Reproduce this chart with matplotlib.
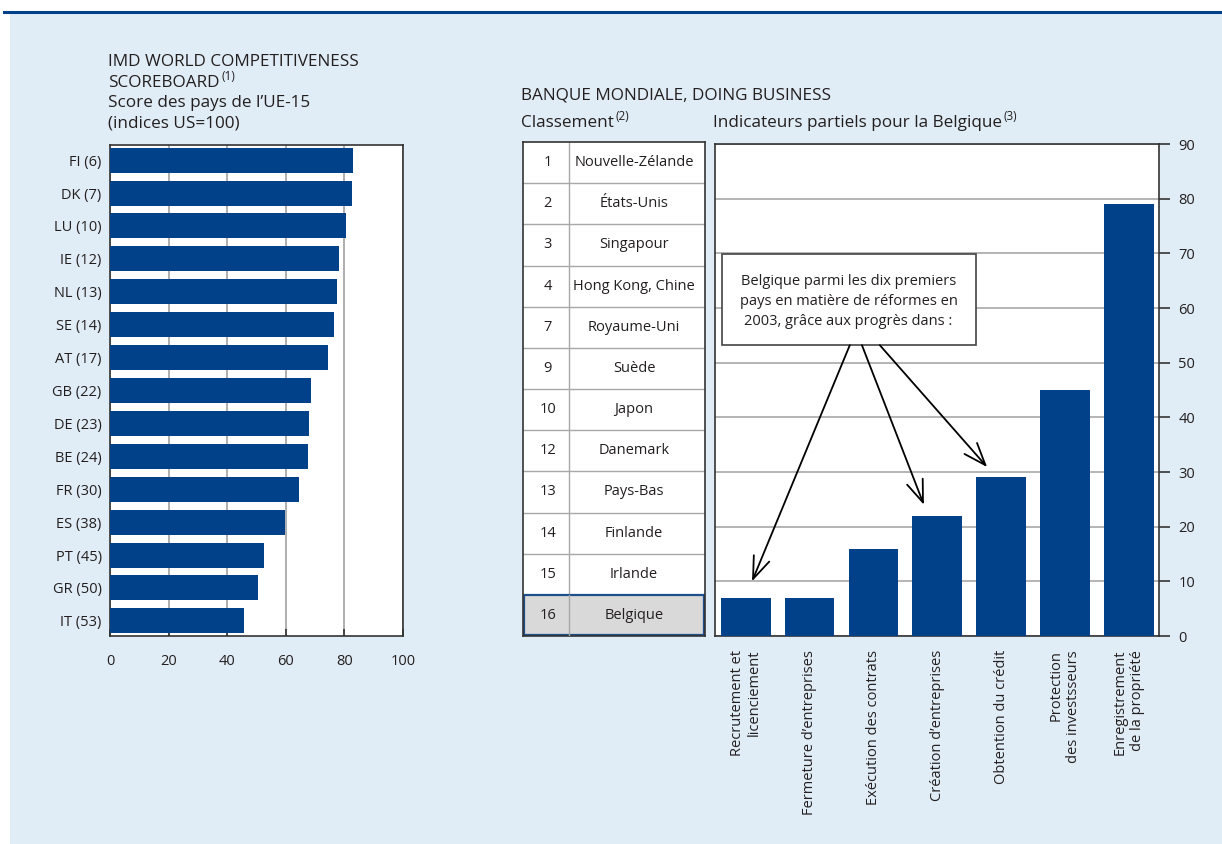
import matplotlib
matplotlib.use("Agg")
import matplotlib.pyplot as plt
from matplotlib.patches import Rectangle
from matplotlib.lines import Line2D

W, H = 1222, 844
BLUE = "#00418a"
BG = "#e1edf6"
TXT = "#231f20"
GRID = "#a8a8a8"
SPINE = "#333333"

plt.rcParams['font.family'] = ['Open Sans', 'DejaVu Sans']

# --- DATA ---
imd_labels = ["FI (6)", "DK (7)", "LU (10)", "IE (12)", "NL (13)", "SE (14)", "AT (17)",
              "GB (22)", "DE (23)", "BE (24)", "FR (30)", "ES (38)", "PT (45)", "GR (50)", "IT (53)"]
imd_scores = [82.8, 82.5, 80.4, 78.0, 77.4, 76.3, 74.3, 68.5, 67.8, 67.5, 64.4, 59.6, 52.5, 50.4, 45.6]

db_ranks = [1, 2, 3, 4, 7, 9, 10, 12, 13, 14, 15, 16]
db_countries = ["Nouvelle-Zélande", "États-Unis", "Singapour", "Hong Kong, Chine", "Royaume-Uni",
                "Suède", "Japon", "Danemark", "Pays-Bas", "Finlande", "Irlande", "Belgique"]

be_indicators = ["Recrutement et\nlicenciement", "Fermeture d’entreprises", "Exécution des contrats",
                 "Création d’entreprises", "Obtention du crédit", "Protection\ndes investsseurs",
                 "Enregistrement\nde la propriété"]
be_values = [7, 7, 16, 22, 29, 45, 79]

TS = 12.3  # title size
FS = 10.5  # label size


def box(l, t, r, b):
    return [l / W, 1 - b / H, (r - l) / W, (b - t) / H]


fig = plt.figure(figsize=(W / 100, H / 100), dpi=100)
fig.patch.set_facecolor("white")
fig.patches.append(Rectangle((10 / W, 0), 1 - 10 / W, 1 - 13 / H, transform=fig.transFigure,
                             facecolor=BG, edgecolor="none", zorder=-10))
fig.add_artist(Line2D([4 / W, 1], [1 - 11.5 / H] * 2, color=BLUE, lw=2.2))

renderer = fig.canvas.get_renderer()


def label(x, y, s, sup=None, size=TS):
    t = fig.text(x / W, 1 - y / H, s, fontsize=size, color=TXT, va="baseline")
    if sup:
        bb = t.get_window_extent(renderer=renderer)
        fig.text((bb.x1 + 2) / W, 1 - (y - 7) / H, sup, fontsize=8.5, color=TXT, va="baseline")


label(108, 66, "IMD WORLD COMPETITIVENESS")
label(108, 87, "SCOREBOARD", "(1)")
label(108, 107, "Score des pays de l’UE-15")
label(108, 128, "(indices US=100)")
label(521, 100, "BANQUE MONDIALE, DOING BUSINESS")
label(521, 127, "Classement", "(2)")
label(713, 127, "Indicateurs partiels pour la Belgique", "(3)")

# --- left: IMD horizontal bars ---
ax1 = fig.add_axes(box(110, 145, 403, 636))
ax1.set_facecolor("white")
pos = list(range(len(imd_scores)))
ax1.barh(pos, imd_scores, height=0.76, color=BLUE, zorder=3)
ax1.set_ylim(len(imd_scores) - 0.54, -0.46)
ax1.set_xlim(0, 100)
ax1.set_yticks(pos)
ax1.set_yticklabels(imd_labels)
ax1.set_xticks([0, 20, 40, 60, 80, 100])
ax1.set_axisbelow(True)
ax1.xaxis.grid(True, color=GRID, lw=1.3)
ax1.tick_params(axis="y", length=0, pad=6, labelsize=FS, labelcolor=TXT)
ax1.tick_params(axis="x", direction="in", length=5, width=1.2, color=SPINE, pad=13,
                labelsize=FS, labelcolor=TXT)
for s in ax1.spines.values():
    s.set_color(SPINE)
    s.set_linewidth(1.2)

# --- middle: ranking table ---
axt = fig.add_axes(box(523, 142, 705, 636))
n = len(db_ranks)
axt.set_xlim(0, 1)
axt.set_ylim(n, 0)
axt.set_xticks([])
axt.set_yticks([])
axt.set_facecolor("white")
div = 0.253
for i in range(1, n):
    axt.axhline(i, color=GRID, lw=1)
axt.axvline(div, color=GRID, lw=1)
axt.add_patch(Rectangle((0.005, n - 1), 0.99, 0.985, facecolor="#d9d9d9", edgecolor="#1f4e8c",
                        lw=1.6, zorder=2))
axt.plot([div, div], [n - 1, n], color=GRID, lw=1, zorder=3)
for i, (r, c) in enumerate(zip(db_ranks, db_countries)):
    axt.text(div / 2 + 0.01, i + 0.5, str(r), ha="center", va="center", fontsize=FS, color=TXT, zorder=4)
    axt.text(0.61, i + 0.5, c, ha="center", va="center", fontsize=FS, color=TXT, zorder=4)
for s in axt.spines.values():
    s.set_color(SPINE)
    s.set_linewidth(1.2)

# --- right: Belgium partial indicators ---
ax2 = fig.add_axes(box(715, 144, 1159, 636))
ax2.set_facecolor("white")
xs = list(range(len(be_values)))
ax2.bar(xs, be_values, width=0.78, color=BLUE, zorder=3)
ax2.set_xlim(-0.48, len(be_values) - 0.53)
ax2.set_ylim(0, 90)
ax2.set_yticks(range(0, 91, 10))
ax2.yaxis.tick_right()
ax2.set_axisbelow(True)
ax2.yaxis.grid(True, color=GRID, lw=1.2)
ax2.tick_params(axis="y", direction="out", length=8, width=1.2, color=SPINE, pad=6,
                labelsize=FS, labelcolor=TXT)
ax2.set_xticks(xs)
ax2.set_xticklabels(be_indicators, rotation=90, ha="center", va="top", multialignment="right")
ax2.tick_params(axis="x", length=0, pad=10, labelsize=FS, labelcolor=TXT)
for s in ax2.spines.values():
    s.set_color(SPINE)
    s.set_linewidth(1.2)

# callout box and arrows
ax2.add_patch(Rectangle((-0.376, 53.2), 3.976, 16.7, facecolor="white", edgecolor="#444444",
                        lw=1.2, zorder=5))
ax2.text(1.612, 61.2, "Belgique parmi les dix premiers\npays en matière de réformes en\n2003, grâce aux progrès dans :",
         ha="center", va="center", fontsize=FS, color=TXT, linespacing=1.45, zorder=6)
starts = [(1.63, 53.2), (1.82, 53.2), (2.10, 53.2)]
ends = [(0.10, 10.0), (2.79, 24.0), (3.78, 30.9)]
for (x0, y0), (x1, y1) in zip(starts, ends):
    ax2.annotate("", xy=(x1, y1), xytext=(x0, y0),
                 arrowprops=dict(arrowstyle="->,head_length=1.6,head_width=0.6", color="black",
                                 lw=1.3, shrinkA=0, shrinkB=0), zorder=6)

fig.savefig("out.png", dpi=100)
